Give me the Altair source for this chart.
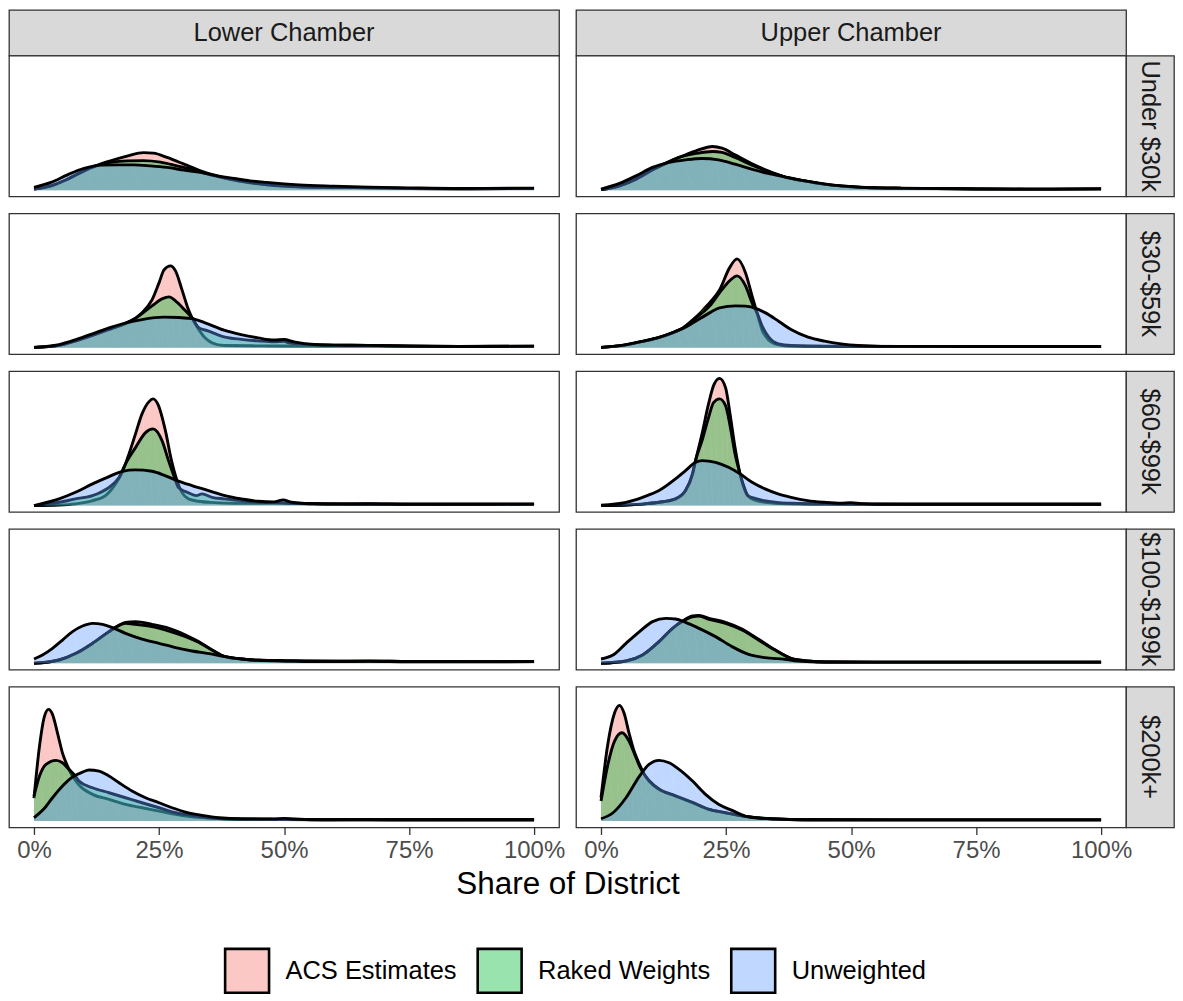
import altair as alt
import pandas as pd

# ---------------- categories ----------------
CHAMBERS = ["Lower Chamber", "Upper Chamber"]
INCOMES = ["Under $30k", "$30-$59k", "$60-$99k", "$100-$199k", "$200k+"]
SERIES = ["ACS Estimates", "Raked Weights", "Unweighted"]
FILLS = ["rgba(248,118,109,0.4)", "rgba(0,186,56,0.4)", "rgba(97,156,255,0.4)"]
X_TICKS = [0, 0.25, 0.5, 0.75, 1.0]

# ---------------- density curves ----------------
# each point: [share of district in %, density x 10]
LOWER_U30_ACS = [[0, 1], [3.4, 4.3], [6.7, 11], [10, 19.3], [12, 23.7], [15.3, 29.3], [18.6, 34], [21.9, 37.5], [23.9, 37], [26.6, 32.7], [30, 26], [33.3, 19.3], [36.6, 14.3], [40, 10], [46.5, 5.3], [53, 3.3], [60, 2.7], [67, 2.3], [75, 1.7], [85, 1.3], [100, 1.8]]
LOWER_U30_RAKED = [[0, 1], [3.4, 4.3], [6.7, 11], [10, 19.3], [12, 23.5], [15.3, 27.7], [18.6, 29.3], [21.9, 29.5], [25.3, 28], [28.6, 24.3], [32, 20.3], [35.3, 15.3], [40, 10.3], [46.5, 5.5], [53, 3.3], [60, 2.7], [67, 2.3], [75, 1.7], [85, 1.3], [100, 1.8]]
LOWER_U30_UNW = [[0, 2.7], [3.4, 7.7], [6.7, 15.3], [10, 21.7], [13.4, 25], [16.7, 25.3], [20, 25.3], [23.3, 24.3], [26.6, 22.7], [30, 20], [33.3, 17.7], [36.6, 14.3], [40, 11.7], [43.2, 9.3], [46.5, 7.7], [50, 6.3], [53, 5.3], [60, 4], [67, 3], [75, 2.3], [85, 1.7], [100, 2]]

UPPER_U30_ACS = [[0, 0.5], [3.7, 4.3], [7, 11], [10.3, 20.3], [12.3, 25.3], [15.6, 32.7], [19, 39.3], [22.3, 43.7], [24.2, 42], [26.8, 35.3], [30.1, 26.7], [33.4, 19.3], [36.7, 13.3], [40, 9.7], [43.3, 7], [46.6, 4.7], [50, 3.3], [55, 2.3], [60, 1.8], [67, 1.5], [75, 1.2], [85, 1], [100, 1.3]]
UPPER_U30_RAKED = [[0, 0.5], [3.7, 4.3], [7, 11], [10.3, 20.3], [12.3, 25.3], [15.6, 32.7], [19, 36.7], [22.3, 38.7], [24.2, 37.7], [26.8, 32.7], [30.1, 25.3], [33.4, 18.7], [36.7, 13.3], [40, 9.7], [43.3, 7], [46.6, 4.7], [50, 3.3], [55, 2.3], [60, 1.8], [67, 1.5], [75, 1.2], [85, 1], [100, 1.3]]
UPPER_U30_UNW = [[0, 1], [3.7, 6.7], [7, 14.3], [10.3, 22.7], [13.6, 27.7], [16.9, 30.3], [20.2, 31.7], [23.5, 30.3], [26.8, 26], [30.1, 21], [33.4, 16.7], [36.7, 13.3], [40, 10], [43.3, 7.3], [46.6, 5], [50, 3.7], [53, 2.7], [60, 2], [67, 1.7], [75, 1.3], [85, 1], [100, 1.3]]

LOWER_30_ACS = [[0, 0.5], [5, 2.5], [8.4, 7], [11.7, 12.5], [15, 18.5], [17.7, 23], [20.4, 30], [21.6, 35], [23.6, 48], [25, 65], [26, 78], [27.3, 82], [28.3, 77], [29.6, 58], [30.9, 38], [31.6, 30], [33, 18], [34.2, 10], [35.6, 5], [38, 2.3], [45, 2], [55, 1.8], [67, 1.8], [80, 1.3], [100, 1.5]]
LOWER_30_RAKED = [[0, 0.5], [5, 2.5], [8.4, 7], [11.7, 12.5], [15, 18.5], [17.7, 23.5], [20.4, 30], [23.6, 42], [25.6, 49], [27, 51], [28.3, 47], [30.3, 37], [31.6, 30], [33, 20], [34.8, 17], [38, 11], [41.5, 8.5], [44.8, 7], [48, 6], [50, 6.5], [51, 5], [55, 3.5], [60, 2.7], [67, 2.5], [75, 1.8], [85, 1.5], [100, 1.7]]
LOWER_30_UNW = [[0, 0.5], [5, 3.3], [8.4, 8.3], [11.7, 14], [15, 20], [17.7, 24], [21.6, 28.3], [26, 30.7], [29, 30.3], [31.6, 29.3], [34.2, 25], [38, 17.7], [41.4, 13.3], [44.8, 10], [48, 7.8], [50, 8.3], [52, 6], [56, 3.3], [60, 2.7], [66.7, 2.5], [75, 1.7], [85, 1.3], [100, 1.7]]

UPPER_30_ACS = [[0, 0.5], [5, 3], [8.4, 6.5], [11.7, 10.5], [15, 16.5], [16.4, 20], [18.4, 28], [21.7, 45], [23.7, 58], [25.7, 80], [27.2, 89], [28.9, 75], [30.2, 52], [31.2, 35], [32.2, 18], [33.5, 8], [35.5, 3], [38, 1.7], [45, 1.5], [60, 1.5], [80, 1.3], [100, 1.3]]
UPPER_30_RAKED = [[0, 0.5], [5, 3], [8.4, 6.5], [11.7, 10.5], [15, 16.5], [16.4, 20], [18.4, 28], [21.7, 41.7], [23.7, 55], [25.7, 67], [27.2, 72], [28.9, 62], [30.2, 45], [31.2, 35], [32.2, 22], [33.5, 11], [35.5, 4], [38, 2.3], [45, 1.7], [60, 1.5], [80, 1.3], [100, 1.3]]
UPPER_30_UNW = [[0, 0.5], [5, 3.3], [8.4, 6.7], [11.7, 10.7], [15, 16.7], [16.4, 19.5], [18.4, 25], [21.7, 35], [23.7, 40], [26.9, 42], [28.9, 41.7], [31.2, 39], [32.9, 35], [35.5, 26.7], [38, 18.3], [41.4, 10.7], [44.7, 6.7], [48, 4], [51.4, 2.3], [56, 1.5], [67, 1.5], [80, 1.3], [100, 1.3]]

LOWER_60_ACS = [[0, 0], [5, 0.5], [8.3, 1.7], [11.7, 5], [14.3, 10], [16.3, 21.7], [17.7, 34], [19, 51.7], [20.3, 71.7], [21.6, 91.7], [23, 104], [23.8, 106.7], [24.9, 100], [26.2, 76.7], [27.5, 45], [28.6, 25], [29.6, 13], [30.9, 6.7], [32.9, 4.3], [36, 3], [40, 2.3], [50, 2.5], [60, 1.5], [75, 1.3], [100, 1.5]]
LOWER_60_RAKED = [[0, 0], [5, 3.3], [8.3, 6.7], [11.7, 10], [15, 18.3], [17, 28], [18.3, 41.7], [20.3, 58], [22.3, 73], [23.8, 76.7], [25.6, 65], [26.9, 45], [28.2, 26.7], [28.9, 18], [30.8, 13], [32.5, 10], [33.6, 11.7], [35.6, 8.3], [38, 6.7], [41.5, 5], [45, 3.3], [49, 2.8], [51, 2.3], [60, 1.8], [75, 1.5], [100, 1.5]]
LOWER_60_UNW = [[0, 0], [5, 6.7], [8.3, 13.3], [11.7, 21.7], [15, 29], [17.7, 34.3], [20.3, 35.7], [23.6, 34.3], [26.2, 30], [28.6, 25], [31.6, 20], [34.9, 15], [38.2, 10], [41.5, 6.7], [44.8, 4.3], [48, 3.7], [49.8, 5.7], [51.5, 3.3], [56, 1.7], [60, 1.5], [67, 1.8], [75, 1.3], [85, 1.3], [100, 1.5]]

UPPER_60_ACS = [[0, 0], [5, 0.5], [8.3, 1.5], [11.6, 3.3], [14.9, 6.7], [16.9, 15], [18.3, 31.7], [18.9, 45], [20.2, 71.7], [21.5, 101.7], [22.5, 120], [23.7, 127.3], [24.9, 118], [25.8, 91.7], [26.8, 58], [27.8, 31.7], [28.8, 15], [30.2, 6.7], [32.8, 3.3], [38, 1.7], [50, 1.5], [75, 1.3], [100, 1.3]]
UPPER_60_RAKED = [[0, 0], [5, 0.5], [8.3, 1.5], [11.6, 3.3], [14.9, 6.7], [16.9, 15], [18.3, 31.7], [18.9, 45], [20.2, 65], [21.5, 88], [22.5, 103], [23.7, 106.7], [24.9, 100], [25.8, 80], [26.8, 51.7], [27.8, 31.7], [28.8, 16], [29.3, 10], [31.2, 6.7], [32.5, 5], [34, 4], [38, 2.3], [45, 1.7], [60, 1.5], [75, 1.3], [100, 1.3]]
UPPER_60_UNW = [[0, 0.5], [5, 3.3], [8.3, 8.3], [11.6, 15], [14.9, 26.7], [16.9, 35], [18.9, 43.3], [20.2, 45], [22.9, 43.3], [25.5, 38.3], [27.8, 31.7], [30.2, 23.3], [32.8, 16.7], [35.4, 11.7], [38, 8.3], [41.3, 5], [44.6, 3.3], [48, 2.3], [49.9, 2.8], [52, 2], [55.7, 1.3], [75, 1.3], [100, 1.3]]

LOWER_100_ACS = [[0, 0], [5, 3.3], [8.4, 10], [11.7, 20], [15, 31.7], [16, 35], [18.3, 41], [20.3, 41.7], [23.6, 39], [27, 35], [30.3, 28.3], [32.9, 21.7], [35.6, 13.3], [38.2, 6.7], [41.5, 4.3], [44.9, 3], [48, 2.7], [51, 2.3], [60, 2], [67, 2.2], [75, 1.8], [85, 1.7], [100, 1.8]]
LOWER_100_RAKED = [[0, 0], [5, 3.3], [8.4, 10], [11.7, 20], [15, 31.7], [16, 35], [18.3, 40], [20.3, 39], [23.6, 36.7], [27, 32.3], [30.3, 26.7], [32.9, 21], [35.6, 13.3], [38.2, 6.7], [41.5, 4.3], [44.9, 3], [48, 2.7], [51, 2.3], [60, 2], [67, 2.2], [75, 1.8], [85, 1.7], [100, 1.8]]
LOWER_100_UNW = [[0, 4.3], [1.7, 8.3], [3.7, 15], [5.7, 23.3], [7.7, 31.7], [9.7, 37.3], [11.7, 40], [13.7, 39], [15.7, 35.7], [18.3, 30], [21.6, 24.3], [25, 20], [28.3, 15.7], [31.6, 12.3], [35, 9.7], [38.2, 6.7], [41.5, 4.3], [44.9, 3], [51.5, 2.3], [56, 1.7], [67, 2], [75, 1.5], [85, 1.5], [100, 1.7]]

UPPER_100_ACS = [[0, 0], [5, 2.3], [8.3, 8.3], [11.6, 21.7], [14.3, 35], [16.3, 42.3], [18.3, 47.3], [19.6, 48], [21.6, 45], [24.9, 41], [28.2, 34.3], [31.5, 24], [34.8, 13.5], [38, 5], [41.4, 2.3], [44.7, 1.3], [55, 1.2], [75, 1.2], [100, 1.2]]
UPPER_100_RAKED = [[0, 0], [5, 2.3], [8.3, 8.3], [11.6, 21.7], [14.3, 35], [16.3, 42], [18.3, 46.5], [19.6, 47.3], [21.6, 44], [24.9, 40], [28.2, 33.3], [31.5, 23.3], [34.8, 13.3], [38, 5], [41.4, 2.3], [44.7, 1.3], [55, 1.2], [75, 1.2], [100, 1.2]]
UPPER_100_UNW = [[0, 4.3], [2.4, 8.3], [5, 20], [7.7, 31.7], [10.3, 41.7], [13, 45], [14.9, 44.3], [16.9, 41], [19.6, 35], [22.9, 26.7], [26.2, 16.7], [29.5, 9], [32.8, 5.7], [36.8, 4], [39.4, 2.3], [44.7, 1.3], [60, 1.2], [100, 1.2]]

LOWER_200_ACS = [[0, 23], [1.1, 75], [2.1, 105], [2.9, 111.7], [3.7, 106.7], [4.7, 88], [5.7, 68], [6.7, 55], [7.7, 45], [9, 36], [11.7, 26.7], [15, 21.7], [18.3, 16.7], [21.6, 13.3], [25, 10], [28.3, 6.7], [31.6, 4.3], [35, 3], [38.2, 2], [45, 1.5], [60, 1.3], [100, 1.3]]
LOWER_200_RAKED = [[0, 25], [1.1, 45], [2.4, 56.7], [4.4, 60.7], [5.7, 58.3], [7, 51.7], [8, 46.7], [9, 40], [11.7, 33.3], [15, 28.3], [18.3, 23.3], [21.6, 18.3], [25, 13.3], [28.3, 8.3], [31.6, 5.7], [35, 3.3], [38.2, 2.3], [45, 1.7], [50, 1.8], [60, 1.3], [100, 1.3]]
LOWER_200_UNW = [[0, 3.3], [1.9, 11.7], [3.7, 23.3], [5.7, 35], [7.7, 44], [9.7, 49], [11, 51], [13, 50], [15, 45], [17, 38.3], [19.6, 30], [22.3, 23.3], [25, 18.3], [27.6, 13.3], [30.3, 9], [33.6, 5.7], [37, 3.3], [41.6, 2.3], [48, 2.2], [50, 2.7], [52, 2], [56, 1.3], [67, 1.5], [75, 1.2], [100, 1.3]]

UPPER_200_ACS = [[0, 23.3], [1.3, 75], [2.7, 108], [3.7, 115.7], [4.6, 108], [5.6, 88], [6.6, 70], [7.7, 56.7], [8.6, 47], [9.6, 40], [11.6, 31.7], [14.9, 25], [18.3, 18.3], [21.5, 11.7], [24.8, 8.3], [28.2, 5], [31.5, 3], [34.8, 2], [40, 1.3], [60, 1.2], [100, 1.2]]
UPPER_200_RAKED = [[0, 20], [1.3, 55], [2.7, 80], [4.2, 88.3], [5.6, 80], [6.6, 68.3], [7.7, 55], [8.6, 47], [9.6, 40.5], [11.6, 32], [14.9, 25.3], [18.3, 18.7], [21.5, 12], [24.8, 8.5], [28.2, 5.2], [31.5, 3.2], [34.8, 2], [40, 1.3], [60, 1.2], [100, 1.2]]
UPPER_200_UNW = [[0, 2.3], [2.4, 8.3], [5, 23.3], [7.7, 45], [9.6, 56.7], [11.6, 60.7], [13.6, 58.3], [15.6, 51.7], [18.3, 40], [20.9, 26.7], [23.5, 16.7], [26.2, 10.7], [28.8, 5], [31.5, 3], [34.8, 2], [41.4, 1.3], [60, 1.2], [100, 1.2]]

LOWER_CURVES = [
    [LOWER_U30_ACS, LOWER_U30_RAKED, LOWER_U30_UNW],
    [LOWER_30_ACS, LOWER_30_RAKED, LOWER_30_UNW],
    [LOWER_60_ACS, LOWER_60_RAKED, LOWER_60_UNW],
    [LOWER_100_ACS, LOWER_100_RAKED, LOWER_100_UNW],
    [LOWER_200_ACS, LOWER_200_RAKED, LOWER_200_UNW],
]
UPPER_CURVES = [
    [UPPER_U30_ACS, UPPER_U30_RAKED, UPPER_U30_UNW],
    [UPPER_30_ACS, UPPER_30_RAKED, UPPER_30_UNW],
    [UPPER_60_ACS, UPPER_60_RAKED, UPPER_60_UNW],
    [UPPER_100_ACS, UPPER_100_RAKED, UPPER_100_UNW],
    [UPPER_200_ACS, UPPER_200_RAKED, UPPER_200_UNW],
]

records = []
for chamber, curve_rows in zip(CHAMBERS, [LOWER_CURVES, UPPER_CURVES]):
    for income, trio in zip(INCOMES, curve_rows):
        for series, pts in zip(SERIES, trio):
            for order, (pct, d10) in enumerate(pts):
                records.append({"chamber": chamber, "income": income, "series": series,
                                "order": order, "share": pct / 100.0, "density": d10 / 10.0})
df = pd.DataFrame(records)

# shared y scale (as facet_grid without free scales), 5% expansion like ggplot
YMAX = 12.8
Y_DOMAIN = [-0.05 * YMAX, 1.05 * YMAX]
X_DOMAIN = [-0.05, 1.05]

FONT = "Liberation Sans"
PANEL_W, PANEL_H = 551, 141
STRIP_TOP_H, STRIP_SIDE_W = 46, 48
GAP = 17
BORDER = "#333333"
LINE_W = 2.9
SMALL_FS = 25.5

legend = alt.Legend(
    title=None, orient="none", direction="horizontal", legendX=215, legendY=939,
    symbolType="square", symbolSize=1936, symbolStrokeColor="black", symbolStrokeWidth=2.6,
    symbolOpacity=1, labelFontSize=SMALL_FS, labelFont=FONT, labelColor="black",
    labelOffset=15, columnPadding=15, padding=0, labelLimit=400,
)
fill_scale = alt.Scale(domain=SERIES, range=FILLS)


def panel(chamber, income, bottom, with_title):
    base = alt.Chart(df).transform_filter(
        (alt.datum.chamber == chamber) & (alt.datum.income == income)
    )
    if bottom:
        if with_title:
            extra = dict(title="Share of District", titleX=PANEL_W + GAP / 2,
                         titleAlign="center", titleFontSize=31.5, titleFont=FONT,
                         titleFontWeight="normal", titleColor="black", titlePadding=6)
        else:
            extra = dict(title=None)
        xaxis = alt.Axis(values=X_TICKS, format=".0%", grid=False, domain=False,
                         labelFontSize=24, labelColor="#4D4D4D", labelFont=FONT,
                         labelFlush=False, labelPadding=4, tickColor=BORDER,
                         tickSize=7, tickWidth=1.3, labelOverlap=False, **extra)
    else:
        xaxis = None
    x = alt.X("share:Q", scale=alt.Scale(domain=X_DOMAIN, nice=False, zero=False), axis=xaxis)
    y = alt.Y("density:Q", scale=alt.Scale(domain=Y_DOMAIN, nice=False, zero=False), axis=None)
    layers = []
    for s in SERIES:
        sub = base.transform_filter(alt.datum.series == s)
        area = sub.mark_area(interpolate="monotone", clip=True, opacity=1).encode(
            x=x, y=y, order="order:Q",
            fill=alt.Fill("series:N", scale=fill_scale, legend=legend),
        )
        line = sub.mark_line(interpolate="monotone", clip=True, color="black",
                             strokeWidth=LINE_W, opacity=1).encode(x=x, y=y, order="order:Q")
        layers += [area, line]
    return alt.layer(*layers).properties(
        width=PANEL_W, height=PANEL_H,
        view=alt.ViewBackground(fill="white", stroke=BORDER, strokeWidth=1.3),
    )


def strip(label, w, h, angle=0):
    return alt.Chart(pd.DataFrame({"label": [label]})).mark_text(
        font=FONT, fontSize=SMALL_FS, color="#1A1A1A", baseline="middle", align="center", angle=angle
    ).encode(text="label:N").properties(
        width=w, height=h,
        view=alt.ViewBackground(fill="#D9D9D9", stroke=BORDER, strokeWidth=1.3),
    )


def spacer(w, h):
    return alt.Chart(pd.DataFrame({"v": [0]})).mark_point(opacity=0, size=1).properties(
        width=w, height=h, view=alt.ViewBackground(fill=None, stroke=None)
    )


cells = [strip(CHAMBERS[0], PANEL_W, STRIP_TOP_H), spacer(GAP, STRIP_TOP_H),
         strip(CHAMBERS[1], PANEL_W, STRIP_TOP_H), spacer(STRIP_SIDE_W, STRIP_TOP_H)]
for i, inc in enumerate(INCOMES):
    last = i == len(INCOMES) - 1
    if i > 0:
        cells += [spacer(1, GAP), spacer(1, GAP), spacer(1, GAP), spacer(1, GAP)]
    cells += [panel(CHAMBERS[0], inc, last, True), spacer(GAP, PANEL_H),
              panel(CHAMBERS[1], inc, last, False),
              strip(inc, STRIP_SIDE_W, PANEL_H, angle=90)]

chart = alt.concat(*cells, columns=4, spacing=0, bounds="flush").properties(
    padding=0, background="white"
).configure(font=FONT).configure_view(stroke=None)

chart.save("out.html", embed_options={"renderer": "svg", "actions": False})
